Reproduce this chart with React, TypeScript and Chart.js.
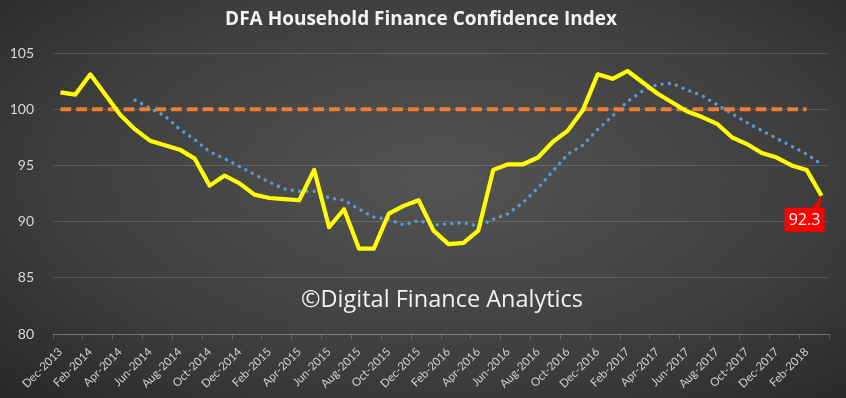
import React, { useEffect, useRef } from 'react';
import { Chart, registerables } from 'chart.js';

Chart.register(...registerables);

const categories: string[] = [
  'Dec-2013',
  'Jan-2014', 'Feb-2014', 'Mar-2014', 'Apr-2014', 'May-2014', 'Jun-2014',
  'Jul-2014', 'Aug-2014', 'Sep-2014', 'Oct-2014', 'Nov-2014', 'Dec-2014',
  'Jan-2015', 'Feb-2015', 'Mar-2015', 'Apr-2015', 'May-2015', 'Jun-2015',
  'Jul-2015', 'Aug-2015', 'Sep-2015', 'Oct-2015', 'Nov-2015', 'Dec-2015',
  'Jan-2016', 'Feb-2016', 'Mar-2016', 'Apr-2016', 'May-2016', 'Jun-2016',
  'Jul-2016', 'Aug-2016', 'Sep-2016', 'Oct-2016', 'Nov-2016', 'Dec-2016',
  'Jan-2017', 'Feb-2017', 'Mar-2017', 'Apr-2017', 'May-2017', 'Jun-2017',
  'Jul-2017', 'Aug-2017', 'Sep-2017', 'Oct-2017', 'Nov-2017', 'Dec-2017',
  'Jan-2018', 'Feb-2018', 'Mar-2018',
];

const indexValues: number[] = [
  101.5, 101.3, 103.1, 101.3, 99.5, 98.2, 97.2, 96.8, 96.4, 95.6, 93.2, 94.1, 93.4,
  92.4, 92.1, 92.0, 91.9, 94.6, 89.5, 91.1, 87.6, 87.6, 90.7, 91.4, 91.9, 89.2,
  88.0, 88.1, 89.2, 94.6, 95.1, 95.1, 95.7, 97.1, 98.1, 99.9, 103.1, 102.7, 103.4,
  102.4, 101.4, 100.6, 99.8, 99.3, 98.7, 97.5, 96.9, 96.1, 95.7, 95.0, 94.6, 92.3,
];

const baselineValues: (number | null)[] = [
  100, 100, 100, 100, 100, 100, 100, 100, 100, 100, 100, 100, 100,
  100, 100, 100, 100, 100, 100, 100, 100, 100, 100, 100, 100, 100,
  100, 100, 100, 100, 100, 100, 100, 100, 100, 100, 100, 100, 100,
  100, 100, 100, 100, 100, 100, 100, 100, 100, 100, 100, 100, null,
];

const movingAverage: (number | null)[] = [
  null, null, null, null, null, 100.8, 100.1, 99.4, 98.2, 97.3, 96.2, 95.6, 94.9,
  94.2, 93.5, 92.9, 92.7, 92.7, 92.1, 91.9, 91.1, 90.4, 90.2, 89.7, 90.1, 89.7,
  89.8, 89.9, 89.6, 90.2, 90.7, 91.7, 93.0, 94.5, 96.0, 96.8, 98.2, 99.4, 100.7,
  101.6, 102.2, 102.3, 101.7, 101.2, 100.4, 99.6, 98.8, 98.1, 97.4, 96.7, 96.0, 95.1,
];

const yTicks: number[] = [80, 85, 90, 95, 100, 105];

const titleText = 'DFA Household Finance Confidence Index';
const watermarkText = '\u00A9Digital Finance Analytics';

const decorPlugin = {
  id: 'decor',
  afterDraw(chart: any) {
    const ctx = chart.ctx;
    ctx.save();
    // title
    ctx.fillStyle = '#f2f2f2';
    ctx.font = 'bold 19px "Open Sans"';
    ctx.textAlign = 'center';
    ctx.textBaseline = 'middle';
    ctx.fillText(titleText, 421, 20);
    // watermark
    ctx.font = '23.5px "Open Sans"';
    ctx.textAlign = 'left';
    ctx.fillStyle = '#f2f2f2';
    ctx.fillText(watermarkText, 301, 300);
    // callout on last point
    const meta = chart.getDatasetMeta(0);
    const last = meta.data[meta.data.length - 1];
    if (last) {
      const px = last.x;
      const py = last.y;
      const boxTop = py + 12;
      const boxH = 24;
      const boxL = px - 37;
      const boxR = px + 3;
      ctx.fillStyle = '#ff0000';
      ctx.beginPath();
      ctx.moveTo(px - 10, boxTop + 1);
      ctx.lineTo(px - 2, boxTop + 1);
      ctx.lineTo(px, py);
      ctx.closePath();
      ctx.fill();
      ctx.fillRect(boxL, boxTop, boxR - boxL, boxH);
      ctx.fillStyle = '#ffffff';
      ctx.font = '16px "Open Sans"';
      ctx.textAlign = 'center';
      ctx.textBaseline = 'middle';
      ctx.fillText(indexValues[indexValues.length - 1].toFixed(1), (boxL + boxR) / 2, boxTop + boxH / 2 + 1);
    }
    ctx.restore();
  },
};

export default function App() {
  const canvasRef = useRef<HTMLCanvasElement | null>(null);

  useEffect(() => {
    const canvas = canvasRef.current;
    if (!canvas) return;
    const chart = new Chart(canvas, {
      type: 'line',
      data: {
        labels: categories,
        datasets: [
          {
            label: 'Index',
            data: indexValues,
            borderColor: '#ffff00',
            borderWidth: 4.2,
            pointRadius: 0,
            tension: 0,
            order: 0,
            borderJoinStyle: 'round',
          },
          {
            label: 'Baseline',
            data: baselineValues,
            borderColor: '#ed7d31',
            borderWidth: 4,
            borderDash: [10.7, 5.1],
            pointRadius: 0,
            order: 1,
          },
          {
            label: '6 per. Mov. Avg.',
            data: movingAverage,
            borderColor: '#5b9bd5',
            borderWidth: 3.4,
            borderDash: [0.01, 7.3],
            borderCapStyle: 'round',
            pointRadius: 0,
            tension: 0,
            order: 2,
          },
        ],
      },
      options: {
        responsive: false,
        animation: false,
        layout: { padding: { top: 53, right: 17, left: 0, bottom: 0 } },
        plugins: {
          legend: { display: false },
          tooltip: { enabled: false },
          title: { display: false },
        },
        scales: {
          x: {
            offset: true,
            grid: {
              offset: true,
              drawOnChartArea: false,
              drawTicks: true,
              tickLength: 5,
              color: (c: any) =>
                c.index === undefined || c.index % 2 === 0 ? 'rgba(255,255,255,0.22)' : 'rgba(0,0,0,0)',
            },
            border: { display: true, color: 'rgba(255,255,255,0.22)' },
            ticks: {
              autoSkip: false,
              maxRotation: 45,
              minRotation: 45,
              padding: 6,
              color: '#d0d0d0',
              font: { family: 'Lato', size: 11.5 },
              callback: (_v: any, i: number) => (i % 2 === 0 ? categories[i] : ''),
            },
            afterFit: (s: any) => {
              s.height = 64;
            },
          },
          y: {
            min: 80,
            max: 105,
            afterBuildTicks: (s: any) => {
              s.ticks = yTicks.map((v) => ({ value: v }));
            },
            grid: { color: 'rgba(255,255,255,0.14)', drawTicks: false },
            border: { display: false },
            ticks: {
              padding: 19,
              color: '#d9d9d9',
              font: { family: 'Lato', size: 14 },
            },
            afterFit: (s: any) => {
              s.width = 53;
            },
          },
        },
      },
      plugins: [decorPlugin],
    });
    return () => chart.destroy();
  }, []);

  return (
    <div
      style={{
        position: 'fixed',
        left: 0,
        top: 0,
        width: 846,
        height: 398,
        background:
          'radial-gradient(ellipse 75% 80% at 52% 45%, #545454 0%, #3e3e3e 60%, #262626 100%)',
      }}
    >
      <canvas ref={canvasRef} width={846} height={398} style={{ display: 'block', width: 846, height: 398 }} />
    </div>
  );
}
